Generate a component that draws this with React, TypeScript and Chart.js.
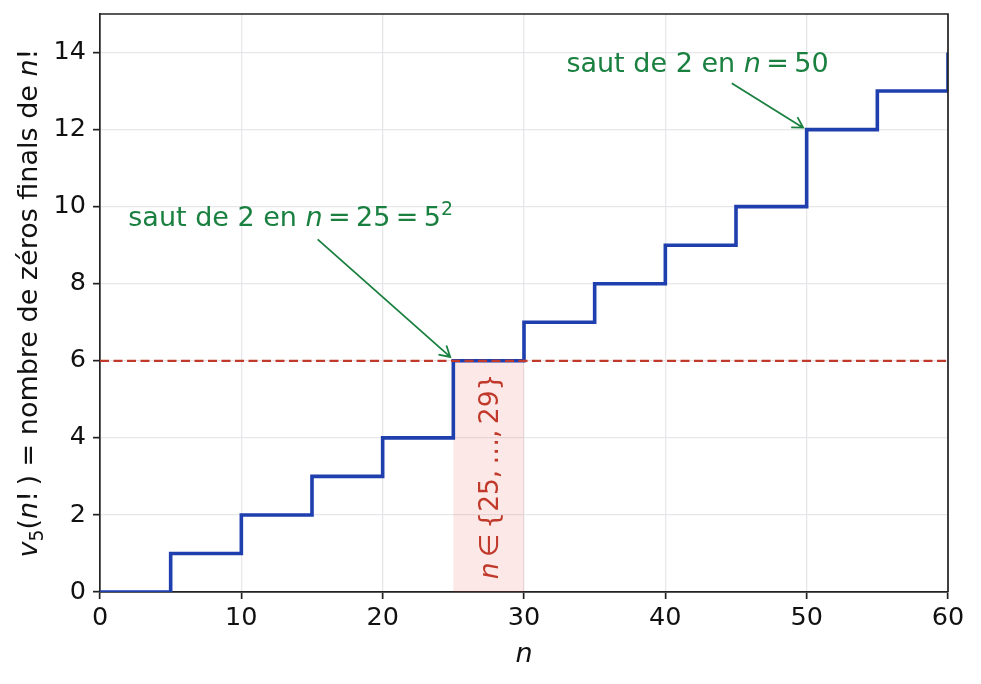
import { useEffect, useRef } from 'react';
import { Chart, registerables } from 'chart.js';

Chart.register(...registerables);

// n values where v5(n!) changes, and the value reached at each of them
const stepN = [0, 5, 10, 15, 20, 25, 30, 35, 40, 45, 50, 55, 60];
const zeroCount = [0, 1, 2, 3, 4, 6, 7, 8, 9, 10, 12, 13, 14];

const xRange = [0, 60];
const yRange = [0, 15];
const xStep = 10;
const yStep = 2;

const threshold = 6;
const band = [25, 30];

const FONT = '"DejaVu Sans"';
const BLUE = '#1f3fae';
const RED = '#c0392b';
const GREEN = '#1a8040';

type Seg = { t: string; it?: boolean; sup?: boolean; sub?: boolean };

const yTitle: Seg[] = [
  { t: 'v', it: true },
  { t: '5', sub: true },
  { t: '(' },
  { t: 'n', it: true },
  { t: '!\u2009)' },
  { t: ' = nombre de zéros finals de ' },
  { t: 'n', it: true },
  { t: '!' },
];

const bandLabel: Seg[] = [
  { t: 'n', it: true },
  { t: '\u2009∈\u2009{25,\u2009…,\u200929}' },
];

// text anchor (data coords, baseline), arrow tail and head (data coords)
const notes = [
  {
    segs: [
      { t: 'saut de 2 en ' },
      { t: 'n', it: true },
      { t: '\u2009=\u200925\u2009=\u20095' },
      { t: '2', sup: true },
    ] as Seg[],
    at: [2, 9.5],
    tail: [15.4, 9.15],
    head: [24.78, 6.1],
  },
  {
    segs: [
      { t: 'saut de 2 en ' },
      { t: 'n', it: true },
      { t: '\u2009=\u200950' },
    ] as Seg[],
    at: [33, 13.5],
    tail: [44.7, 13.2],
    head: [49.75, 12.05],
  },
];

function fontOf(s: Seg, size: number) {
  const sz = s.sup || s.sub ? size * 0.7 : size;
  return `${s.it ? 'italic ' : ''}${sz}px ${FONT}`;
}

function drawRich(
  ctx: CanvasRenderingContext2D,
  segs: Seg[],
  x: number,
  y: number,
  size: number,
  align: 'left' | 'center'
) {
  let total = 0;
  const widths = segs.map((s) => {
    ctx.font = fontOf(s, size);
    const w = ctx.measureText(s.t).width;
    total += w;
    return w;
  });
  let cx = align === 'center' ? x - total / 2 : x;
  ctx.textAlign = 'left';
  segs.forEach((s, i) => {
    ctx.font = fontOf(s, size);
    const dy = s.sup ? -size * 0.4 : s.sub ? size * 0.22 : 0;
    ctx.fillText(s.t, cx, y + dy);
    cx += widths[i];
  });
}

const extras = {
  id: 'extras',
  beforeDatasetsDraw(chart: Chart) {
    const { ctx, scales } = chart;
    const xs = scales.x;
    const ys = scales.y;
    ctx.save();
    ctx.fillStyle = 'rgba(231, 76, 60, 0.12)';
    const x0 = xs.getPixelForValue(band[0]);
    const x1 = xs.getPixelForValue(band[1]);
    const y0 = ys.getPixelForValue(0);
    const y1 = ys.getPixelForValue(threshold);
    ctx.fillRect(x0, y1, x1 - x0, y0 - y1);
    ctx.restore();
  },
  afterDatasetsDraw(chart: Chart) {
    const { ctx, scales, chartArea } = chart;
    const xs = scales.x;
    const ys = scales.y;
    const dpr = chart.currentDevicePixelRatio;
    ctx.save();

    // rotated label inside the band
    ctx.fillStyle = RED;
    ctx.textBaseline = 'alphabetic';
    ctx.translate(xs.getPixelForValue((band[0] + band[1]) / 2) + 9, ys.getPixelForValue(threshold / 2));
    ctx.rotate(-Math.PI / 2);
    drawRich(ctx, bandLabel, 0, 0, 26.5, 'center');
    ctx.setTransform(dpr, 0, 0, dpr, 0, 0);

    // annotations
    ctx.fillStyle = GREEN;
    ctx.strokeStyle = GREEN;
    ctx.lineWidth = 1.8;
    notes.forEach((nt) => {
      drawRich(ctx, nt.segs, xs.getPixelForValue(nt.at[0]), ys.getPixelForValue(nt.at[1]), 27, 'left');
      const tx = xs.getPixelForValue(nt.tail[0]);
      const ty = ys.getPixelForValue(nt.tail[1]);
      const hx = xs.getPixelForValue(nt.head[0]);
      const hy = ys.getPixelForValue(nt.head[1]);
      const ang = Math.atan2(hy - ty, hx - tx);
      ctx.beginPath();
      ctx.moveTo(tx, ty);
      ctx.lineTo(hx, hy);
      const hl = 12;
      const ha = Math.PI / 6;
      ctx.moveTo(hx - hl * Math.cos(ang - ha), hy - hl * Math.sin(ang - ha));
      ctx.lineTo(hx, hy);
      ctx.lineTo(hx - hl * Math.cos(ang + ha), hy - hl * Math.sin(ang + ha));
      ctx.stroke();
    });

    // top and right spines
    ctx.strokeStyle = '#222';
    ctx.lineWidth = 1.7;
    ctx.beginPath();
    ctx.moveTo(chartArea.left, chartArea.top);
    ctx.lineTo(chartArea.right, chartArea.top);
    ctx.lineTo(chartArea.right, chartArea.bottom);
    ctx.stroke();

    // axis titles
    ctx.fillStyle = '#111';
    ctx.textBaseline = 'alphabetic';
    drawRich(ctx, [{ t: 'n', it: true }], (chartArea.left + chartArea.right) / 2, 662, 27, 'center');
    ctx.translate(37, (chartArea.top + chartArea.bottom) / 2);
    ctx.rotate(-Math.PI / 2);
    drawRich(ctx, yTitle, 0, 0, 27, 'center');
    ctx.restore();
  },
};

export default function App() {
  const canvasRef = useRef<HTMLCanvasElement>(null);

  useEffect(() => {
    if (!canvasRef.current) return;
    const steps = stepN.map((n, i) => ({ x: n, y: zeroCount[i] }));
    const line = [
      { x: xRange[0], y: threshold },
      { x: xRange[1], y: threshold },
    ];
    const chart = new Chart(canvasRef.current, {
      type: 'line',
      data: {
        datasets: [
          {
            data: line,
            borderColor: RED,
            borderWidth: 2.2,
            borderDash: [9, 4.5],
            pointRadius: 0,
          },
          {
            data: steps,
            borderColor: BLUE,
            borderWidth: 3.6,
            stepped: 'before',
            pointRadius: 0,
          },
        ],
      },
      options: {
        animation: false,
        responsive: true,
        maintainAspectRatio: false,
        layout: { padding: { left: 0, top: 14, right: 33, bottom: 0 } },
        plugins: { legend: { display: false }, tooltip: { enabled: false } },
        scales: {
          x: {
            type: 'linear',
            min: xRange[0],
            max: xRange[1],
            afterFit: (s: any) => {
              s.height = 92;
              s.paddingLeft = 0;
              s.paddingRight = 0;
            },
            ticks: {
              stepSize: xStep,
              color: '#111',
              padding: 7,
              maxRotation: 0,
              font: { family: FONT, size: 25.5, lineHeight: 1 },
            },
            grid: { color: '#e6e6eb', lineWidth: 1.3, tickLength: 7, tickColor: '#222', tickWidth: 1.7 },
            border: { color: '#222', width: 1.7 },
          },
          y: {
            type: 'linear',
            min: yRange[0],
            max: yRange[1],
            afterFit: (s: any) => {
              s.width = 100;
              s.paddingTop = 0;
              s.paddingBottom = 0;
            },
            ticks: {
              stepSize: yStep,
              includeBounds: false,
              color: '#111',
              padding: 7,
              font: { family: FONT, size: 25.5, lineHeight: 1 },
            },
            grid: { color: '#e6e6eb', lineWidth: 1.3, tickLength: 7, tickColor: '#222', tickWidth: 1.7 },
            border: { color: '#222', width: 1.7 },
          },
        },
      },
      plugins: [extras],
    });
    return () => chart.destroy();
  }, []);

  return (
    <div style={{ position: 'absolute', left: 0, top: 0, width: 981, height: 684, background: '#fff' }}>
      <canvas ref={canvasRef} />
    </div>
  );
}
